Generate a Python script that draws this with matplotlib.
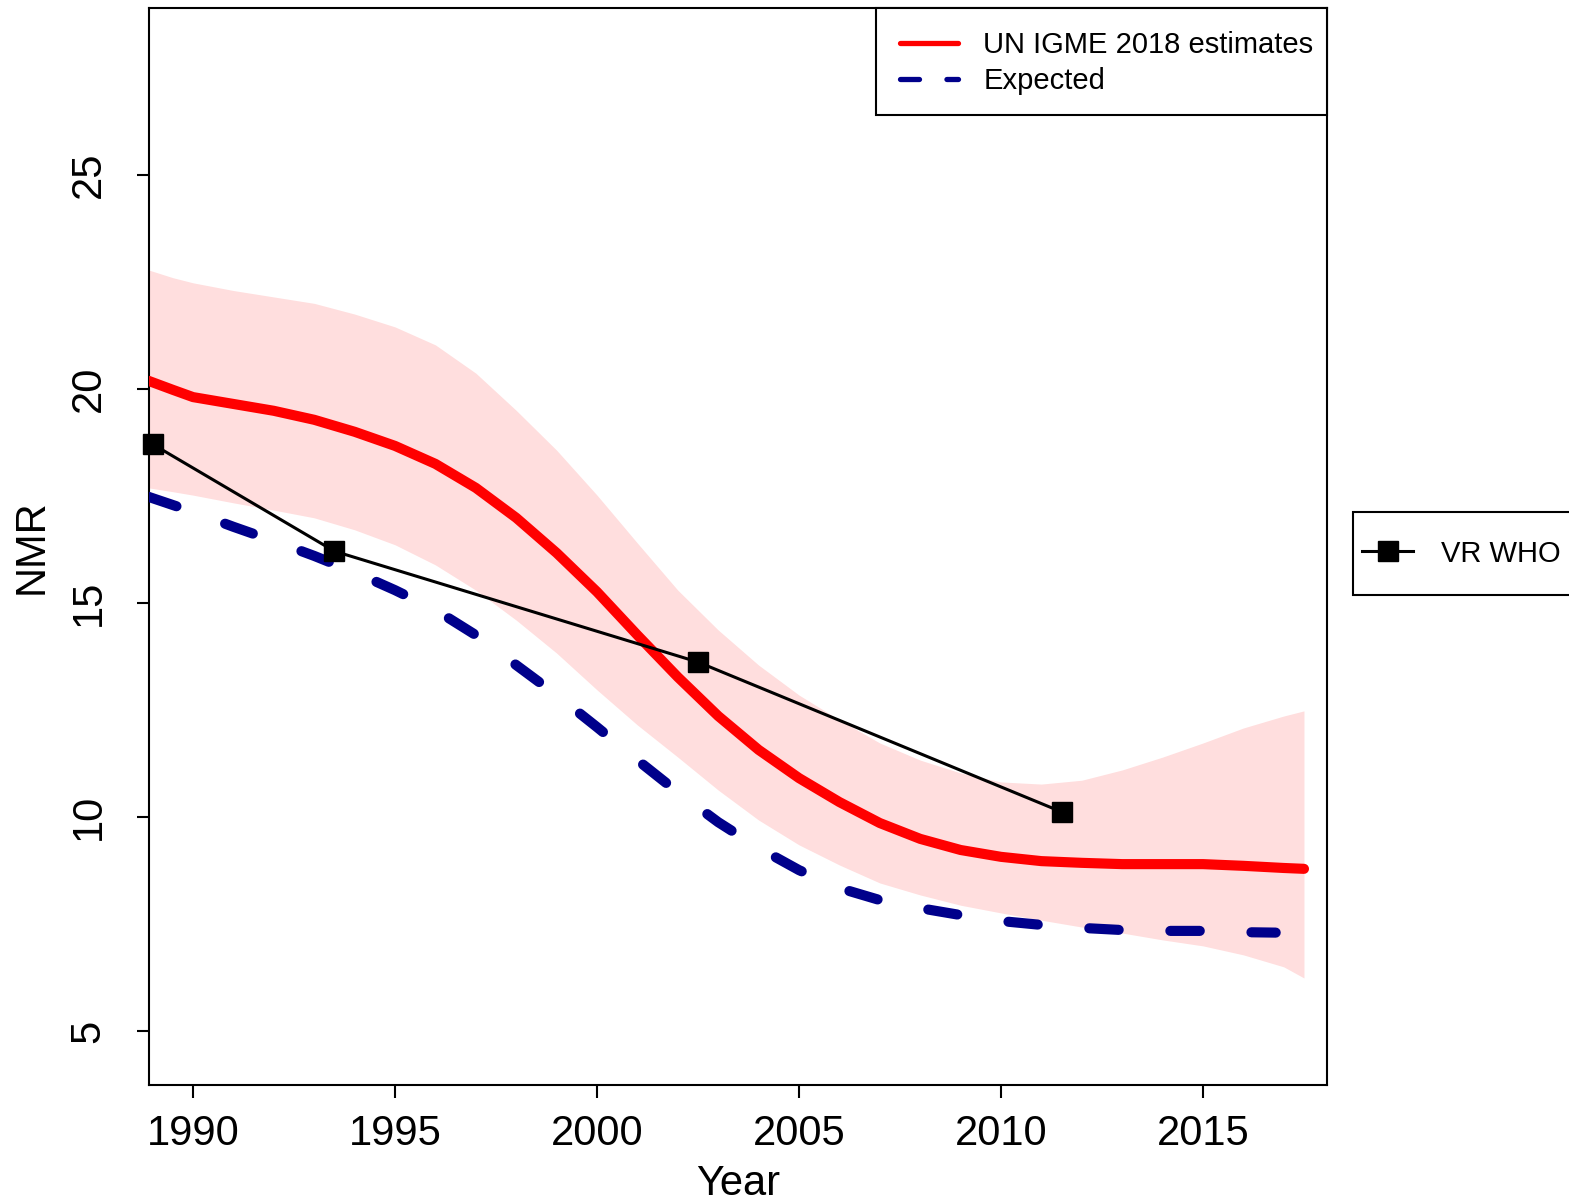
import matplotlib
matplotlib.use('Agg')
import matplotlib.pyplot as plt
from matplotlib.lines import Line2D
from matplotlib.patches import Rectangle

plt.rcParams['font.family'] = ['Liberation Sans', 'DejaVu Sans']

# UN IGME 2018 estimates and uncertainty band
years = [1988.9, 1989.5, 1990, 1991, 1992, 1993, 1994, 1995, 1996, 1997, 1998, 1999,
         2000, 2001, 2002, 2003, 2004, 2005, 2006, 2007, 2008, 2009, 2010, 2011,
         2012, 2013, 2014, 2015, 2016, 2017, 2017.5]
nmr = [20.19, 19.98, 19.81, 19.65, 19.49, 19.28, 19.00, 18.67, 18.25, 17.69, 16.99, 16.17,
       15.26, 14.25, 13.27, 12.36, 11.57, 10.91, 10.35, 9.86, 9.49, 9.23, 9.07, 8.97,
       8.93, 8.90, 8.90, 8.90, 8.86, 8.81, 8.79]
upper = [22.78, 22.60, 22.48, 22.30, 22.15, 22.00, 21.75, 21.45, 21.03, 20.37, 19.50, 18.57,
         17.52, 16.40, 15.30, 14.37, 13.55, 12.85, 12.27, 11.73, 11.33, 11.03, 10.82, 10.77,
         10.86, 11.10, 11.40, 11.73, 12.08, 12.36, 12.48]
lower = [17.69, 17.60, 17.52, 17.34, 17.17, 16.99, 16.71, 16.36, 15.89, 15.30, 14.60, 13.83,
         12.97, 12.15, 11.40, 10.63, 9.93, 9.35, 8.88, 8.46, 8.18, 7.94, 7.76, 7.59,
         7.43, 7.29, 7.13, 6.99, 6.78, 6.50, 6.24]

# Expected
exp_years = [1988.9, 1990, 1991, 1992, 1993, 1994, 1995, 1996, 1997, 1998, 1999, 2000,
             2001, 2002, 2003, 2004, 2005, 2006, 2007, 2008, 2009, 2010, 2011, 2012,
             2013, 2014, 2015, 2016, 2016.8]
expected = [17.48, 17.13, 16.78, 16.45, 16.10, 15.72, 15.30, 14.84, 14.25, 13.55, 12.85, 12.10,
            11.33, 10.58, 9.88, 9.28, 8.76, 8.34, 8.06, 7.87, 7.71, 7.57, 7.48, 7.41,
            7.36, 7.34, 7.34, 7.31, 7.30]

# VR WHO data points
vr_years = [1989.0, 1993.5, 2002.5, 2011.5]
vr_nmr = [18.71, 16.21, 13.62, 10.12]

W, H = 1569, 1201
fig = plt.figure(figsize=(W / 100, H / 100), dpi=100)
ax = fig.add_axes([149/W, 1 - 1085/H, (1327-149)/W, (1085-8)/H])

ax.fill_between(years, lower, upper, color='#ffdede', linewidth=0, zorder=1)
ax.plot(years, nmr, color='red', linewidth=7.3, solid_capstyle='round',
        solid_joinstyle='round', zorder=3)
ax.plot(exp_years, expected, color='#00008b', linewidth=7.3, dashes=(2.9, 5.1),
        dash_capstyle='round', zorder=3)
ax.plot(vr_years, vr_nmr, color='black', linewidth=2.2, marker='s', markersize=14.5,
        zorder=4, clip_on=False)

ax.set_xlim(1988.91, 2018.07)
ax.set_ylim(3.74, 28.9)
ax.set_xticks([1990, 1995, 2000, 2005, 2010, 2015])
ax.set_yticks([5, 10, 15, 20, 25])
ax.tick_params(axis='both', length=9, width=1.5, labelsize=30)
ax.tick_params(axis='x', pad=12)
ax.tick_params(axis='y', pad=20)
for lab in ax.get_yticklabels():
    lab.set_rotation(90)
    lab.set_va('center')
for s in ax.spines.values():
    s.set_linewidth(1.5)

ax.set_xlabel('Year', fontsize=30, labelpad=7)
ax.set_ylabel('NMR', fontsize=30, labelpad=12)

# legend frames drawn by hand so the padding matches the original
fig.patches.append(Rectangle((876/W, 1 - 115/H), (1327-876)/W, (115-8)/H,
                             transform=fig.transFigure, facecolor='white',
                             edgecolor='black', linewidth=1.5, zorder=5))
fig.patches.append(Rectangle((1353/W, 1 - 595/H), 240/W, 83/H, transform=fig.transFigure,
                             facecolor='white', edgecolor='black', linewidth=1.5))

h1 = [Line2D([], [], color='red', linewidth=3.8, solid_capstyle='round'),
      Line2D([], [], color='#00008b', linewidth=3.8, dashes=(3.6, 5.2), dash_capstyle='round')]
leg1 = fig.legend(h1, ['UN IGME 2018 estimates', 'Expected'], loc='upper left',
                  bbox_to_anchor=(900/W, 1 - 31/H), borderaxespad=0, borderpad=0,
                  fontsize=21, frameon=False, handlelength=2.0, handletextpad=0.86,
                  labelspacing=0.27)
leg1.set_zorder(6)

h2 = [Line2D([], [], color='black', linewidth=2.2, marker='s', markersize=14.5)]
leg2 = fig.legend(h2, ['VR WHO'], loc='center left',
                  bbox_to_anchor=(1353/W, 1 - 553.5/H), fontsize=21, frameon=False,
                  handlelength=1.75, handletextpad=0.96, borderpad=0.31, borderaxespad=0)

fig.savefig('out.png', dpi=100)
